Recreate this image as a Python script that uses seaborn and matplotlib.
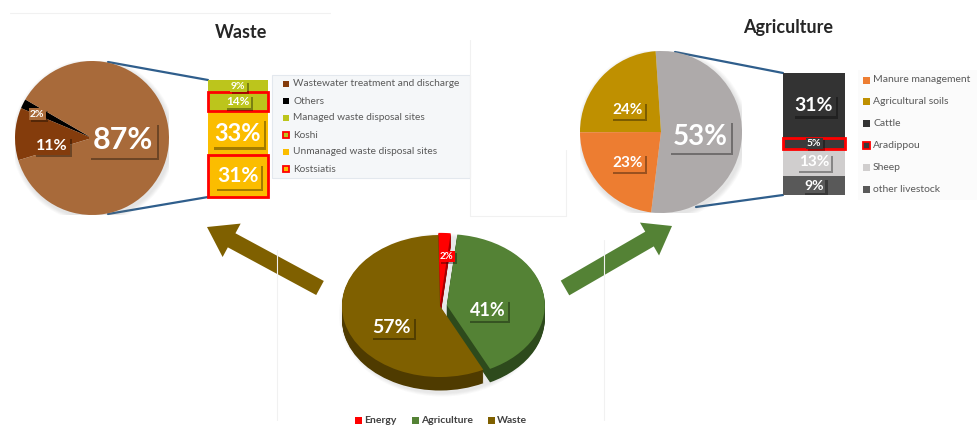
import numpy as np
import matplotlib
matplotlib.use("Agg")
import matplotlib.pyplot as plt
import matplotlib.patheffects as pe
from matplotlib.patches import Rectangle, FancyArrow, Ellipse
import seaborn as sns

# ---------------- data ----------------
sector_names = ["Energy", "Agriculture", "Waste"]
sector_shares = [2, 41, 57]

waste_slice_names = ["Others", "Wastewater treatment and discharge", "Solid waste disposal"]
waste_slice_shares = [2, 11, 87]

# stacked breakdown of solid waste disposal, bottom to top
waste_bar_names = ["Kostsiatis", "Unmanaged waste disposal sites", "Koshi", "Managed waste disposal sites"]
waste_bar_shares = [31, 33, 14, 9]
waste_bar_marked = [True, False, True, False]

agri_slice_names = ["Livestock", "Agricultural soils", "Manure management"]
agri_slice_shares = [53, 24, 23]

# stacked breakdown of livestock, bottom to top
agri_bar_names = ["other livestock", "Sheep", "Aradippou", "Cattle"]
agri_bar_shares = [9, 13, 5, 31]
agri_bar_marked = [False, False, True, False]

waste_legend_labels = ["Wastewater treatment and discharge", "Others",
                       "Managed waste disposal sites", "Koshi",
                       "Unmanaged waste disposal sites", "Kostsiatis"]
agri_legend_labels = ["Manure management", "Agricultural soils", "Cattle",
                      "Aradippou", "Sheep", "other livestock"]

# ---------------- style ----------------
sns.set_theme(style="white")
plt.rcParams["font.family"] = ["Lato", "DejaVu Sans"]

RED = "#ff0000"
C_ENERGY, C_AGRI, C_WASTE = "#ff0000", "#548235", "#7f6000"
SIDE = ["#a10000", "#2d4a1c", "#4f3b00"]
C_SOLID, C_WW, C_OTH = "#a86a3a", "#843c0c", "#000000"
C_MAN, C_UNMAN = "#bcc51c", "#fbbd00"
C_LIVE, C_SOIL, C_MANURE = "#aeaaaa", "#bf9000", "#ed7d31"
C_CATTLE, C_ARAD, C_SHEEP, C_OTHER = "#333333", "#3a3a3a", "#d0cece", "#595959"
LINE = "#2f5e8c"

W, H = 977, 426
fig = plt.figure(figsize=(W / 100, H / 100), dpi=100)
fig.patch.set_facecolor("white")


def px_axes(x0, y0, x1, y1):
    return fig.add_axes([x0 / W, 1 - y1 / H, (x1 - x0) / W, (y1 - y0) / H])


def value_label(ax, x, y, text, size, face):
    t = ax.text(x, y, text, ha="center", va="center", color="white",
                fontsize=size, fontweight="bold",
                bbox=dict(boxstyle="square,pad=0.12", fc=face, ec="none"))
    t.get_bbox_patch().set_path_effects(
        [pe.SimplePatchShadow(offset=(1.6, -1.6), shadow_rgbFace="black", alpha=0.35), pe.Normal()])
    return t


def soft_glow(ax, cx, cy, rx, ry, steps=6, spread=0.06):
    # faint grey halo drawn beneath a pie
    for i in range(steps, 0, -1):
        f = 1 + spread * i / steps
        ax.add_patch(Ellipse((cx + 0.02, cy - 0.03), 2 * rx * f, 2 * ry * f,
                             fc="#7f7f7f", ec="none", alpha=0.035, zorder=0))


# ---------------- overlay in pixel coordinates ----------------
ov = px_axes(0, 0, W, H)
ov.set_xlim(0, W)
ov.set_ylim(H, 0)
ov.axis("off")

# faint panel frames
for xs, ys in [([470, 470], [40, 216]), ([470, 566], [216, 216]), ([566, 566], [150, 216]),
               ([277, 277], [250, 420]), ([604, 604], [240, 420]), ([10, 330], [13, 13])]:
    ov.plot(xs, ys, color="#f1f1f1", lw=0.8)

# titles
ov.text(241, 32, "Waste", ha="center", va="center", fontsize=13, fontweight="bold", color="#262626")
ov.text(788, 28, "Agriculture", ha="center", va="center", fontsize=13, fontweight="bold", color="#262626")

# arrows from the sector pie to its breakdowns
ov.add_patch(FancyArrow(320, 288, 207 - 320, 227 - 288, width=16, head_width=38,
                        head_length=28, length_includes_head=True, color=C_WASTE, lw=0))
ov.add_patch(FancyArrow(565, 288, 672 - 565, 226 - 288, width=17, head_width=38,
                        head_length=26, length_includes_head=True, color=C_AGRI, lw=0))

# connector lines pie -> bar
ov.plot([108, 208], [62, 80], color=LINE, lw=1.6)
ov.plot([108, 214], [214, 196], color=LINE, lw=1.6)
ov.plot([675, 783], [52, 73], color=LINE, lw=1.6)
ov.plot([696, 783], [207, 195], color=LINE, lw=1.6)

# waste legend
ov.add_patch(Rectangle((272, 75), 198, 103, fc="#f5f7f9", ec="#e3e8ee", lw=0.8))
waste_legend_styles = [(C_WW, None), (C_OTH, None), (C_MAN, None), (C_MAN, RED),
                       (C_UNMAN, None), (C_UNMAN, RED)]
for i, (lab, (fc, ec)) in enumerate(zip(waste_legend_labels, waste_legend_styles)):
    y = 84 + i * 17
    ov.add_patch(Rectangle((283, y - 3), 6, 6, fc=fc, ec=ec if ec else "none", lw=1.3))
    ov.text(293, y, lab, va="center", ha="left", fontsize=7.3, color="#595959")

# agriculture legend
ov.add_patch(Rectangle((858, 70), 130, 130, fc="#fbfbfb", ec="none"))
agri_legend_styles = [(C_MANURE, None), (C_SOIL, None), (C_CATTLE, None), (C_ARAD, RED),
                      (C_SHEEP, None), (C_OTHER, None)]
for i, (lab, (fc, ec)) in enumerate(zip(agri_legend_labels, agri_legend_styles)):
    y = 80 + i * 21.8
    ov.add_patch(Rectangle((863, y - 3.5), 7, 7, fc=fc, ec=ec if ec else "none", lw=1.3))
    ov.text(873, y, lab, va="center", ha="left", fontsize=7.5, color="#595959")

# sector legend
for name, col, x in zip(sector_names, [C_ENERGY, C_AGRI, C_WASTE], [355, 412, 488]):
    ov.add_patch(Rectangle((x, 417), 7, 7, fc=col, ec="none"))
    ov.text(x + 9, 420.5, name, va="center", ha="left", fontsize=7.5, fontweight="bold", color="#404040")

# ---------------- waste pie ----------------
axw = px_axes(15, 61, 169, 215)
soft_glow(axw, 0, 0, 1, 1)
axw.pie(waste_slice_shares, colors=[C_OTH, C_WW, C_SOLID], startangle=150,
        counterclock=True, frame=True, wedgeprops=dict(linewidth=0))
axw.set_xlim(-1, 1)
axw.set_ylim(-1, 1)
axw.axis("off")
for (x, y), v, size, face in zip([(-0.71, 0.31), (-0.52, -0.10), (0.40, -0.03)],
                                 waste_slice_shares, [7.5, 11.5, 22], [C_SOLID, C_WW, C_SOLID]):
    value_label(axw, x, y, f"{v}%", size, face)

# ---------------- waste bar ----------------
axwb = px_axes(208, 80, 268, 197)
bottom = 0
for v, mk, col, size in zip(waste_bar_shares, waste_bar_marked,
                            [C_UNMAN, C_UNMAN, C_MAN, C_MAN], [15, 17, 8.5, 7.5]):
    axwb.bar(0, v, bottom=bottom, width=1, color=col,
             edgecolor=RED if mk else "none", linewidth=2 if mk else 0, clip_on=False,
             zorder=3 if mk else 2)
    value_label(axwb, 0, bottom + v / 2, f"{v}%", size, col)
    bottom += v
axwb.set_xlim(-0.5, 0.5)
axwb.set_ylim(0, sum(waste_bar_shares))
axwb.axis("off")

# ---------------- agriculture pie ----------------
axa = px_axes(580, 51, 742, 213)
soft_glow(axa, 0, 0, 1, 1)
axa.pie(agri_slice_shares, colors=[C_LIVE, C_SOIL, C_MANURE], startangle=-97,
        counterclock=True, frame=True, wedgeprops=dict(linewidth=0))
axa.set_xlim(-1, 1)
axa.set_ylim(-1, 1)
axa.axis("off")
for (x, y), v, size, face in zip([(0.48, -0.06), (-0.41, 0.27), (-0.41, -0.38)],
                                 agri_slice_shares, [20, 11, 11], [C_LIVE, C_SOIL, C_MANURE]):
    value_label(axa, x, y, f"{v}%", size, face)

# ---------------- agriculture bar ----------------
axab = px_axes(783, 73, 845, 195)
bottom = 0
for v, mk, col, size in zip(agri_bar_shares, agri_bar_marked,
                            [C_OTHER, C_SHEEP, C_ARAD, C_CATTLE], [10, 11, 7.5, 14]):
    axab.bar(0, v, bottom=bottom, width=1, color=col,
             edgecolor=RED if mk else "none", linewidth=2 if mk else 0, clip_on=False,
             zorder=3 if mk else 2)
    value_label(axab, 0, bottom + v / 2, f"{v}%", size, col)
    bottom += v
axab.set_xlim(-0.5, 0.5)
axab.set_ylim(0, sum(agri_bar_shares))
axab.axis("off")

# ---------------- sector pie (tilted, with depth) ----------------
axs = px_axes(330, 225, 560, 405)
explode = [0.03, 0.07, 0.0]
depth = 0.19
soft_glow(axs, 0, -depth / 2, 1.0, 1.0 + depth / 2, steps=5, spread=0.05)
for k in np.linspace(depth, 0, 16)[:-1]:
    axs.pie(sector_shares, colors=SIDE, startangle=91, counterclock=False,
            explode=explode, center=(0, -k), frame=True, wedgeprops=dict(linewidth=0))
axs.pie(sector_shares, colors=[C_ENERGY, C_AGRI, C_WASTE], startangle=91, counterclock=False,
        explode=explode, frame=True, wedgeprops=dict(linewidth=0))
axs.set_aspect("auto")
axs.set_xlim(-1.122, 1.224)
axs.set_ylim(-1.394, 1.141)
axs.axis("off")
for (x, y), v, size, face in zip([(0.07, 0.70), (0.49, -0.06), (-0.49, -0.30)],
                                 sector_shares, [7, 13, 14], [C_ENERGY, C_AGRI, C_WASTE]):
    value_label(axs, x, y, f"{v}%", size, face)

fig.savefig("out.png", dpi=100, facecolor="white")
